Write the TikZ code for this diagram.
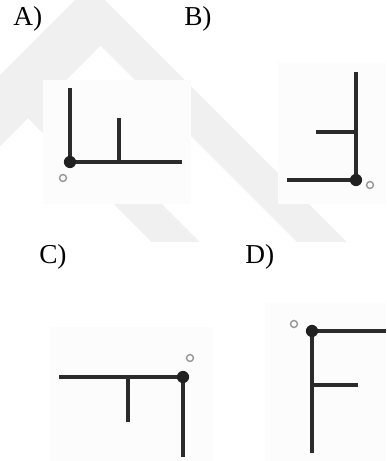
\documentclass[tikz,border=0pt]{standalone}
\usepackage{fontspec}
\setmainfont{Liberation Serif}
\begin{document}
\begin{tikzpicture}[x=0.75pt,y=-0.75pt,
  bar/.style={line width=3.5pt,draw=black!83},
  hub/.style={fill=black!87},
  pin/.style={draw=black!40,line width=1.1pt},
  panel/.style={fill=black!1.2,draw=none},
  lab/.style={anchor=base west,inner sep=0pt,font=\fontsize{20.5}{24}\selectfont},
  wmark/.style={fill=black!6,draw=none}]
\useasboundingbox (0,0) rectangle (386,461);
\fill[white] (0,0) rectangle (386,461);
\begin{scope}
\path[clip] (0,0) rectangle (386,461);
% watermark
\path[wmark] (0,75) -- (90,-15) -- (347,242) -- (297,242) -- (100.5,45.5) -- (52,94)
  -- (200,242) -- (152,242) -- (28,118) -- (0,146) -- cycle;
% panels
\path[panel] (43,80) rectangle (191,204);
\path[panel] (278,62) rectangle (386,204);
\path[panel] (50,327) rectangle (213,461);
\path[panel] (265,302) rectangle (386,461);
\end{scope}
% labels
\node[lab] (la) at (13,25) {A)};
\node[lab] (lb) at (184,25) {B)};
\node[lab] (lc) at (39,263) {C)};
\node[lab] (ld) at (245,263) {D)};
% panel A
\coordinate (a0) at (70,162);
\coordinate (a1) at (70,88);
\coordinate (a2) at (182,162);
\coordinate (a3) at (119,118);
\coordinate (a4) at (119,162);
\coordinate (ac) at (63,178);
\draw[bar] (a1) -- (a0) -- (a2);
\draw[bar] (a3) -- (a4);
\fill[hub] (a0) circle (4.6pt);
\draw[pin] (ac) circle (2.6pt);
% panel B
\coordinate (b0) at (356,180);
\coordinate (b1) at (356,72);
\coordinate (b2) at (287,180);
\coordinate (b3) at (316,132);
\coordinate (b4) at (356,132);
\coordinate (bc) at (370,185);
\draw[bar] (b1) -- (b0) -- (b2);
\draw[bar] (b3) -- (b4);
\fill[hub] (b0) circle (4.6pt);
\draw[pin] (bc) circle (2.6pt);
% panel C
\coordinate (c0) at (183,377);
\coordinate (c1) at (59,377);
\coordinate (c2) at (183,457);
\coordinate (c3) at (128,422);
\coordinate (c4) at (128,377);
\coordinate (cc) at (190,358);
\draw[bar] (c1) -- (c0) -- (c2);
\draw[bar] (c3) -- (c4);
\fill[hub] (c0) circle (4.6pt);
\draw[pin] (cc) circle (2.6pt);
% panel D
\coordinate (d0) at (312,331);
\coordinate (d1) at (386,331);
\coordinate (d2) at (312,453);
\coordinate (d3) at (358,385);
\coordinate (d4) at (312,385);
\coordinate (dc) at (294,324);
\draw[bar] (d1) -- (d0) -- (d2);
\draw[bar] (d3) -- (d4);
\fill[hub] (d0) circle (4.6pt);
\draw[pin] (dc) circle (2.6pt);
\end{tikzpicture}
\end{document}
